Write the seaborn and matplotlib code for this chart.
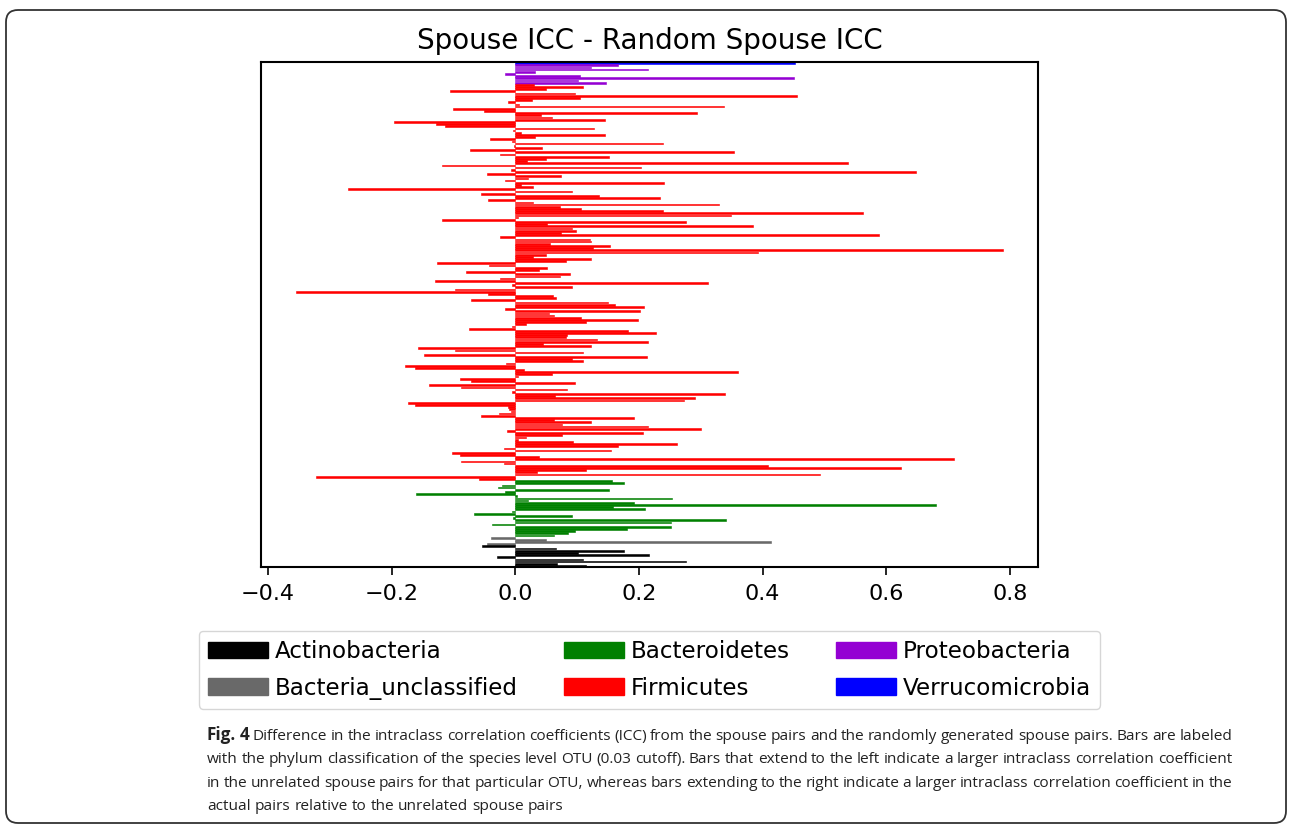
import matplotlib
matplotlib.use("Agg")
import matplotlib.pyplot as plt
from matplotlib.patches import Patch, FancyBboxPatch
from matplotlib.transforms import IdentityTransform
import seaborn as sns
import pandas as pd

# ICC difference (spouse - random spouse) per OTU, read top to bottom
verrucomicrobia = [0.452]
proteobacteria = [0.166, 0.123, 0.214, 0.032, -0.016, 0.104, 0.450, 0.102, 0.147]
firmicutes = [
    0.030, 0.110, 0.050, -0.105, 0.097, 0.455, 0.105, 0.027, -0.011, 0.006,
    0.337, -0.101, -0.050, 0.294, 0.041, 0.059, 0.145, -0.196, -0.128, -0.114,
    0.127, -0.003, 0.010, 0.145, 0.032, -0.041, -0.006, 0.239, -0.002, 0.043,
    -0.073, 0.354,
    -0.025, 0.152, 0.050, 0.019, 0.538, -0.118, 0.204, -0.007, 0.648, -0.046,
    0.074, 0.020, -0.016, 0.240, 0.010, 0.028, -0.270, 0.091, -0.055, 0.135, 0.234,
    -0.044, 0.028, 0.330, 0.073, 0.106, 0.239, 0.562, 0.349, 0.004, -0.119,
    0.276, 0.052, 0.385, 0.091, 0.098, 0.074, 0.588, -0.024, 0.121, 0.123, 0.056, 0.153,
    0.125, 0.788, 0.392, 0.050, 0.028, 0.123, 0.082, -0.126, -0.043, 0.052,
    0.039, -0.079, 0.088, 0.072, -0.024, -0.129, 0.312, -0.006, 0.092, -0.097, -0.354,
    -0.044, 0.061, 0.066, -0.071, 0.150, 0.162, 0.208, -0.016, 0.202, 0.054,
    0.062, 0.107, 0.198, 0.115, 0.018, -0.006, -0.074, 0.183, 0.227, 0.084, 0.082, 0.132,
    0.215, 0.045, 0.123, -0.157, -0.098, 0.110, -0.148, 0.213, 0.092, 0.110,
    -0.015, -0.178, -0.162, 0.014, 0.360, 0.059, 0.005, -0.089, -0.072, 0.097, -0.139,
    -0.087, 0.084, -0.006, 0.339, 0.064, 0.291, 0.272, -0.174, -0.162, -0.011,
    -0.010, -0.007, -0.026, -0.056, 0.192, 0.063, 0.122, 0.075, 0.214, 0.300, -0.014, 0.207,
    0.075, 0.018, 0.004, 0.094, 0.261, 0.166, -0.018, 0.155, -0.102, -0.089,
    0.039, 0.709, -0.088, -0.019, 0.409, 0.623, 0.114, 0.035, 0.493, -0.322, -0.059,
]
bacteroidetes = [
    0.157, 0.175, -0.022, -0.028, 0.152, -0.017, -0.160, 0.002, 0.253, 0.020,
    0.192, 0.681, 0.158, 0.209, -0.006, -0.066, 0.092, -0.003, 0.341, 0.252,
    -0.037, 0.252, 0.180, 0.097, 0.086, 0.063,
]
bacteria_unclassified = [-0.039, 0.050, 0.413, -0.046]
actinobacteria = [-0.053, 0.066, 0.175, 0.101, 0.216, -0.030, 0.110, 0.276, 0.068, 0.115]

phyla_top_to_bottom = ["Verrucomicrobia", "Proteobacteria", "Firmicutes",
                       "Bacteroidetes", "Bacteria_unclassified", "Actinobacteria"]
legend_order = ["Actinobacteria", "Bacteria_unclassified", "Bacteroidetes",
                "Firmicutes", "Proteobacteria", "Verrucomicrobia"]
colors = {"Actinobacteria": "black", "Bacteria_unclassified": "dimgray",
          "Bacteroidetes": "green", "Firmicutes": "red",
          "Proteobacteria": "darkviolet", "Verrucomicrobia": "blue"}

rows = []
for name, vals in zip(phyla_top_to_bottom,
                      [verrucomicrobia, proteobacteria, firmicutes,
                       bacteroidetes, bacteria_unclassified, actinobacteria]):
    for v in vals:
        rows.append((f"OTU{len(rows) + 1:03d}", name, v))
df = pd.DataFrame(rows, columns=["otu", "phylum", "diff"])

fig = plt.figure(figsize=(12.92, 8.33), dpi=100)
ax = fig.add_axes([0.2020, 0.3193, 0.6014, 0.6063])
sns.barplot(data=df, x="diff", y="otu", hue="phylum", order=df["otu"],
            palette=colors, dodge=False, width=0.8, errorbar=None,
            saturation=1, legend=False, orient="h", ax=ax)
# thin bars: give each an edge in its own colour so it never vanishes
for bar in ax.patches:
    bar.set_edgecolor(bar.get_facecolor())
    bar.set_linewidth(0.4)

ax.set_xticks([-0.4, -0.2, 0.0, 0.2, 0.4, 0.6, 0.8])
ax.set_yticks([])
ax.set_xlabel("")
ax.set_ylabel("")
ax.tick_params(axis="x", labelsize=16, length=6, width=1.2, pad=6)
for s in ax.spines.values():
    s.set_linewidth(1.5)
ax.set_title("Spouse ICC - Random Spouse ICC", fontsize=20, pad=9)

handles = [Patch(color=colors[p], label=p) for p in legend_order]
ax.legend(handles=handles, ncol=3, loc="upper center", bbox_to_anchor=(0.5, -0.103),
          fontsize=16.6, handlelength=2.6, handletextpad=0.3, columnspacing=2.0,
          labelspacing=0.6)

# rounded frame around the figure panel
fig.add_artist(FancyBboxPatch((6, 10), 1280, 813, boxstyle="round,pad=0,rounding_size=12",
                              transform=IdentityTransform(), fill=False,
                              edgecolor="#333333", linewidth=1.3))

# caption, justified like the journal text block
renderer = fig.canvas.get_renderer()
cap_size = 11.1
cap_family = "Open Sans"


def caption_line(words, y_px, x0=207, x1=1232, justify=True):
    texts = []
    widths = []
    for w, bold in words:
        t = fig.text(0, 1 - y_px / 833, w, fontsize=cap_size + (1.2 if bold else 0),
                     family=cap_family, weight="bold" if bold else "normal",
                     va="baseline", color="#222222")
        texts.append(t)
        widths.append(t.get_window_extent(renderer).width)
    if justify and len(words) > 1:
        gap = (x1 - x0 - sum(widths)) / (len(words) - 1)
    else:
        a = fig.text(0, 0, "a a", fontsize=cap_size, family=cap_family)
        b = fig.text(0, 0, "aa", fontsize=cap_size, family=cap_family)
        gap = a.get_window_extent(renderer).width - b.get_window_extent(renderer).width
        a.remove()
        b.remove()
    x = x0
    for t, w in zip(texts, widths):
        t.set_x(x / 1292)
        x += w + gap


line1 = [("Fig.", True), ("4", True)] + [(w, False) for w in
    "Difference in the intraclass correlation coefficients (ICC) from the spouse pairs and the randomly generated spouse pairs. Bars are labeled".split()]
line2 = [(w, False) for w in
    "with the phylum classification of the species level OTU (0.03 cutoff). Bars that extend to the left indicate a larger intraclass correlation coefficient".split()]
line3 = [(w, False) for w in
    "in the unrelated spouse pairs for that particular OTU, whereas bars extending to the right indicate a larger intraclass correlation coefficient in the".split()]
line4 = [(w, False) for w in "actual pairs relative to the unrelated spouse pairs".split()]

caption_line(line1, 740)
caption_line(line2, 763)
caption_line(line3, 787)
caption_line(line4, 810, justify=False)

fig.savefig("out.png", dpi=100)
